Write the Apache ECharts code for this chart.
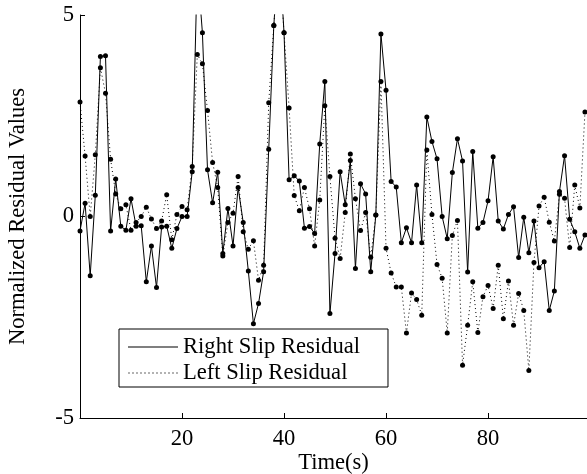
<!DOCTYPE html>
<html>
<head>
<meta charset="utf-8">
<script src="https://cdn.jsdelivr.net/npm/echarts@6/dist/echarts.min.js"></script>
<style>
html,body{margin:0;padding:0;background:#fff;}
#chart{width:587px;height:474px;}
</style>
</head>
<body>
<div id="chart"></div>
<script>
// Time samples (s)
var times = [0,1,2,3,4,5,6,7,8,9,10,11,12,13,14,15,16,17,18,19,20,21,22,23,24,25,26,27,28,29,30,31,32,33,34,35,36,37,38,39,40,41,42,43,44,45,46,47,48,49,50,51,52,53,54,55,56,57,58,59,60,61,62,63,64,65,66,67,68,69,70,71,72,73,74,75,76,77,78,79,80,81,82,83,84,85,86,87,88,89,90,91,92,93,94,95,96,97,98,99];

// Right Slip Residual (solid)
var rightSlip = [-0.36,0.33,-1.47,0.53,3.97,3.99,-0.36,0.93,-0.24,-0.34,
  0.44,-0.24,-0.23,-1.62,-0.73,-1.76,-0.26,-0.24,-0.79,-0.30,
  0.00,0.00,1.11,6.2,4.56,1.16,0.34,1.10,-0.92,0.20,
  -0.73,0.72,-0.15,-1.35,-2.66,-2.16,-1.37,1.67,4.74,6.7,
  4.56,0.91,1.01,0.88,-0.29,-0.25,-0.42,1.80,3.35,-2.41,
  -0.92,1.11,0.29,1.39,-1.29,0.81,0.56,-1.37,0.04,4.53,
  3.13,0.87,0.73,-0.65,-0.28,-0.65,0.78,-0.65,2.47,1.86,
  1.43,0.00,-0.55,1.09,1.93,1.38,-1.38,1.61,-0.29,-0.15,
  0.39,1.48,-0.11,-0.31,0.05,0.24,-1.02,-0.02,-0.90,-0.11,
  -1.27,-1.12,-2.33,-1.85,0.62,1.51,-0.07,-0.38,-0.79,-0.46];

// Left Slip Residual (dotted)
var leftSlip = [2.84,1.50,0.00,1.53,3.69,3.06,1.42,0.56,0.19,0.29,
  -0.34,-0.15,0.00,0.23,-0.06,-0.30,-0.11,0.54,-0.58,0.05,
  0.25,0.17,1.24,4.02,3.79,2.63,1.34,0.72,-0.98,-0.15,
  0.08,0.99,-0.38,-0.81,-0.60,-1.58,-1.21,2.82,4.74,6.5,
  4.56,2.69,0.52,0.14,0.72,0.19,-0.73,0.41,2.75,0.99,
  -0.54,-1.04,0.10,1.55,0.44,-0.35,0.10,-1.01,0.04,3.35,
  -0.79,-1.40,-1.75,-1.75,-2.89,-1.90,-2.06,-2.45,1.65,0.05,
  -1.19,-1.53,-2.89,-0.47,-0.10,-3.69,-2.70,-1.62,-2.88,-1.99,
  -1.71,-2.28,-1.21,-2.54,-1.60,-2.70,-1.91,-2.33,-3.82,-1.14,
  0.26,0.48,-0.14,-0.61,0.55,0.45,-0.77,0.78,0.21,2.59];

var xTicks = [20, 40, 60, 80];
var yTicks = [-5, 0, 5];
var seriesNames = ['Right Slip Residual', 'Left Slip Residual'];

function pairs(vals) { return times.map(function (t, i) { return [t, vals[i]]; }); }

var FONT = "'Liberation Serif','Times New Roman',serif";
var FS = 22.6;
var dottedIcon = 'path://';
for (var k = 0; k < 13; k++) { dottedIcon += 'M' + (k * 4) + ' 0h1.2v1h-1.2z'; }

var chart = echarts.init(document.getElementById('chart'), null, {renderer: 'canvas'});
chart.setOption({
  animation: false,
  backgroundColor: '#fff',
  textStyle: {fontFamily: FONT, color: '#000'},
  grid: {left: 80, right: 0, top: 15, bottom: 56, containLabel: false, outerBoundsMode: 'none'},
  legend: {
    orient: 'vertical',
    left: 119, top: 329,
    padding: [6, 28, 2, 9],
    itemGap: 2,
    itemWidth: 50,
    itemHeight: 1,
    borderColor: '#000', borderWidth: 1,
    backgroundColor: '#fff',
    textStyle: {fontFamily: FONT, fontSize: FS, color: '#000', lineHeight: 24},
    data: [
      {name: seriesNames[0], icon: 'rect'},
      {name: seriesNames[1], icon: dottedIcon}
    ]
  },
  xAxis: {
    type: 'value', min: 0, max: 99.4, interval: 20,
    name: 'Time(s)', nameLocation: 'middle', nameGap: 34, nameMoveOverlap: false,
    nameTextStyle: {fontFamily: FONT, fontSize: FS, color: '#000', verticalAlign: 'top'},
    axisLine: {show: true, onZero: false, lineStyle: {color: '#000', width: 1}},
    axisTick: {show: true, inside: true, length: 5, lineStyle: {color: '#000'}},
    axisLabel: {fontFamily: FONT, fontSize: FS, color: '#000', margin: 10,
      formatter: function (v) { return xTicks.indexOf(v) >= 0 ? String(v) : ''; }},
    splitLine: {show: false}
  },
  yAxis: {
    type: 'value', min: -5, max: 5, interval: 5,
    name: 'Normalized Residual Values', nameLocation: 'middle', nameGap: 50, nameMoveOverlap: false,
    nameTextStyle: {fontFamily: FONT, fontSize: FS, color: '#000'},
    axisLine: {show: true, onZero: false, lineStyle: {color: '#000', width: 1}},
    axisTick: {show: true, inside: true, length: 5, lineStyle: {color: '#000'}},
    axisLabel: {fontFamily: FONT, fontSize: FS, color: '#000', margin: 6,
      formatter: function (v) { return yTicks.indexOf(v) >= 0 ? String(v) : ''; }},
    splitLine: {show: false}
  },
  series: [
    {
      name: seriesNames[0], type: 'line', data: pairs(rightSlip),
      symbol: 'circle', symbolSize: 5, showAllSymbol: true, clip: true,
      itemStyle: {color: '#000'},
      lineStyle: {color: '#000', width: 1, type: 'solid'}
    },
    {
      name: seriesNames[1], type: 'line', data: pairs(leftSlip),
      symbol: 'circle', symbolSize: 5, showAllSymbol: true, clip: true,
      itemStyle: {color: '#000'},
      lineStyle: {color: '#000', width: 1, type: [1, 3]}
    }
  ]
});
</script>
</body>
</html>
